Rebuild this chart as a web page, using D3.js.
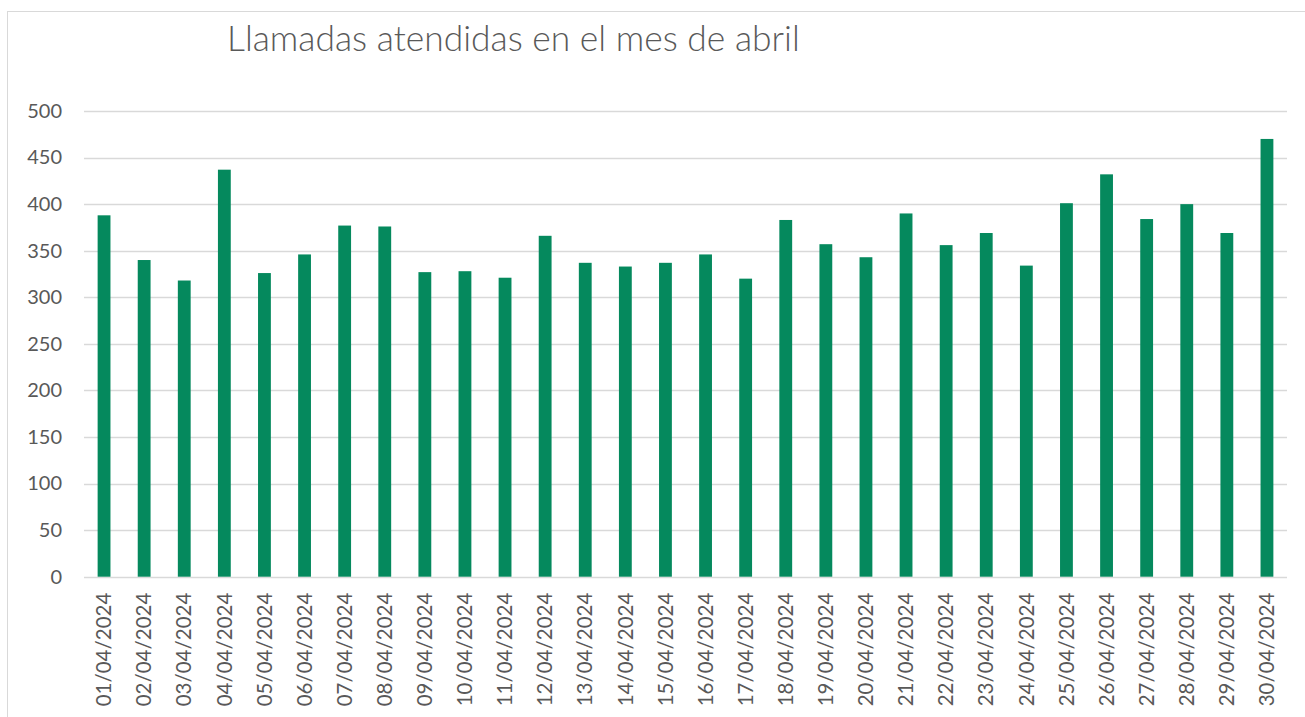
<!DOCTYPE html>
<html>
<head>
<meta charset="utf-8">
<script src="https://cdn.jsdelivr.net/npm/d3@7"></script>
<style>
  body { margin: 0; background: #fff; }
  svg { display: block; font-family: Lato, "Open Sans", sans-serif; }
</style>
</head>
<body>
<svg id="chart" width="1305" height="717"></svg>
<script>
const dias = ["01/04/2024","02/04/2024","03/04/2024","04/04/2024","05/04/2024","06/04/2024",
  "07/04/2024","08/04/2024","09/04/2024","10/04/2024","11/04/2024","12/04/2024","13/04/2024",
  "14/04/2024","15/04/2024","16/04/2024","17/04/2024","18/04/2024","19/04/2024","20/04/2024",
  "21/04/2024","22/04/2024","23/04/2024","24/04/2024","25/04/2024","26/04/2024","27/04/2024",
  "28/04/2024","29/04/2024","30/04/2024"];
const llamadas = [388, 340, 318, 437, 326, 346, 377, 376, 327, 328, 321, 366, 337, 333, 337,
  346, 320, 383, 357, 343, 390, 356, 369, 334, 401, 432, 384, 400, 369, 470];
const yTicks = [0, 50, 100, 150, 200, 250, 300, 350, 400, 450, 500];
const titulo = "Llamadas atendidas en el mes de abril";

const svg = d3.select("#chart");
const margin = {top: 111, left: 84, right: 18, bottom: 140};
const width = 1305, height = 717;
const textColor = "#595959";

// chart frame (runs off the right/bottom edge like the screenshot)
svg.append("rect")
  .attr("x", 7.5).attr("y", 11.5)
  .attr("width", 1320).attr("height", 730)
  .attr("fill", "none").attr("stroke", "#d9d9d9");

const x = d3.scaleBand()
  .domain(dias)
  .range([margin.left, width - margin.right])
  .paddingInner(0.68).paddingOuter(0.34);

const y = d3.scaleLinear()
  .domain([0, 500])
  .range([576.7, margin.top]);

// gridlines
svg.append("g")
  .selectAll("line")
  .data(yTicks)
  .join("line")
    .attr("x1", margin.left).attr("x2", width - margin.right)
    .attr("y1", d => Math.round(y(d)) + 0.5).attr("y2", d => Math.round(y(d)) + 0.5)
    .attr("stroke", "#d9d9d9").attr("stroke-width", 1.5);

// y axis labels
const yAxis = svg.append("g")
  .attr("transform", `translate(${margin.left},0)`)
  .call(d3.axisLeft(y).tickValues(yTicks).tickSize(0).tickPadding(22));
yAxis.select(".domain").remove();
yAxis.selectAll("text")
  .attr("fill", textColor)
  .style("font-size", "20px")
  .style("font-family", "Lato, sans-serif");

// bars
svg.append("g")
  .selectAll("rect")
  .data(llamadas)
  .join("rect")
    .attr("x", (d, i) => x(dias[i]))
    .attr("y", d => y(d))
    .attr("width", x.bandwidth())
    .attr("height", d => y(0) - y(d))
    .attr("fill", "#05895d");

// x axis labels, rotated
const xAxis = svg.append("g")
  .attr("transform", `translate(0,${y(0)})`)
  .call(d3.axisBottom(x).tickSize(0).tickPadding(0));
xAxis.select(".domain").remove();
xAxis.selectAll("text")
  .attr("fill", textColor)
  .style("font-size", "20.5px")
  .style("font-family", "Lato, sans-serif")
  .attr("text-anchor", "end")
  .attr("dy", "0.35em")
  .attr("dx", 0)
  .attr("y", 0)
  .attr("transform", "translate(0,16) rotate(-90)");

// title
svg.append("text")
  .attr("x", 227).attr("y", 51)
  .attr("fill", textColor)
  .style("font-size", "35.4px")
  .style("font-weight", 300)
  .text(titulo);
</script>
</body>
</html>
